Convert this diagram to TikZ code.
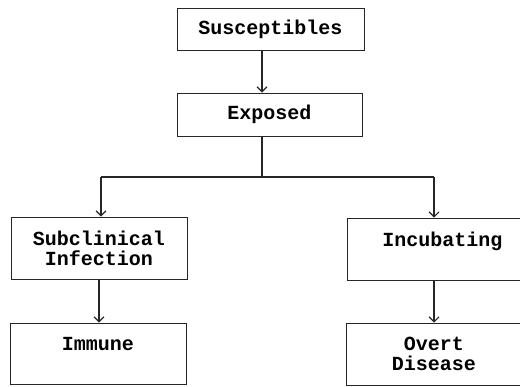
\documentclass[tikz,border=0pt]{standalone}
\usepackage{fontspec}
\setmonofont{Liberation Mono}
\usetikzlibrary{arrows.meta}
\begin{document}
\begin{tikzpicture}[x=1pt,y=-1pt,
  box/.style={draw=black!85,line width=0.9pt,inner sep=0pt,align=center,
    font=\ttfamily\bfseries\fontsize{20}{20}\selectfont},
  conn/.style={draw=black!85,line width=1.1pt},
  arr/.style={conn,-{Straight Barb[length=5pt,width=10pt]}}]
\useasboundingbox (0,0) rectangle (520,386);
\clip (0,0) rectangle (520,386);
\node[box,minimum width=187pt,minimum height=42pt] (sus) at (270.5,29) {Susceptibles};
\node[box,minimum width=185pt,minimum height=43pt] (exp) at (269.5,114.5) {Exposed};
\node[box,minimum width=176pt,minimum height=62pt] (sub) at (99,248) {Subclinical\\Infection};
\node[box,minimum width=176pt,minimum height=61pt] (imm) at (98,353.5) {Immune\\\phantom{I}};
\node[box,minimum width=191pt,minimum height=62pt] (inc) at (442.5,249) {Incubating\\\phantom{I}};
\node[box,minimum width=176pt,minimum height=62pt] (ovt) at (434,354) {Overt\\Disease};
\coordinate (cx) at (262,0);
\coordinate (split) at (262,177);
\coordinate (bl) at (101,177);
\coordinate (br) at (434,177);
\coordinate (il) at (99,0);
\draw[arr] (sus.south -| cx) -- (exp.north -| cx);
\draw[conn] (exp.south -| cx) -- (split);
\draw[conn] (bl) -- (br);
\draw[arr] (bl) -- (sub.north -| bl);
\draw[arr] (br) -- (inc.north -| br);
\draw[arr] (sub.south -| il) -- (imm.north -| il);
\draw[arr] (inc.south -| br) -- (ovt.north -| br);
\end{tikzpicture}
\end{document}
